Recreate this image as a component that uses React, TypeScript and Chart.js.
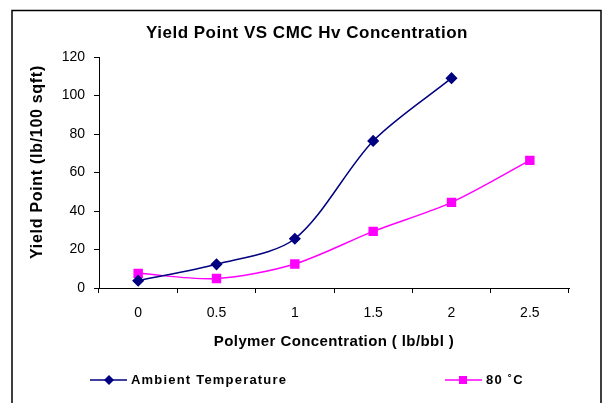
import React, { useEffect, useRef } from "react";
import { Chart, registerables } from "chart.js";

Chart.register(...registerables);

const TITLE = "Yield Point VS CMC Hv Concentration";
const X_TITLE = "Polymer Concentration ( lb/bbl )";
const Y_TITLE = "Yield Point (lb/100 sqft)";

const categories = ["0", "0.5", "1", "1.5", "2", "2.5"];
const ambientValues = [3.8, 12.3, 25.6, 76.4, 109.0, null];
const hotValues = [7.6, 4.9, 12.5, 29.4, 44.5, 66.3];
const seriesNames = ["Ambient Temperature", "80 ˚C"];
const yTicks = { min: 0, max: 120, step: 20 };

const NAVY = "#000080";
const MAGENTA = "#FF00FF";
const FONT = '"Liberation Sans", Arial, sans-serif';

function drawMarker(ctx: CanvasRenderingContext2D, kind: string, x: number, y: number, color: string) {
  ctx.fillStyle = color;
  ctx.beginPath();
  if (kind === "diamond") {
    const r = 5;
    ctx.moveTo(x, y - r);
    ctx.lineTo(x + r, y);
    ctx.lineTo(x, y + r);
    ctx.lineTo(x - r, y);
    ctx.closePath();
  } else {
    const s = 4;
    ctx.rect(x - s, y - s, 2 * s, 2 * s);
  }
  ctx.fill();
}

const decorPlugin = {
  id: "decor",
  afterDraw(chart: any) {
    const ctx: CanvasRenderingContext2D = chart.ctx;
    const area = chart.chartArea;
    ctx.save();
    // outer frame
    ctx.strokeStyle = "#000";
    ctx.lineWidth = 1.5;
    ctx.beginPath();
    ctx.moveTo(12, 403);
    ctx.lineTo(12, 10.5);
    ctx.lineTo(601, 10.5);
    ctx.lineTo(601, 403);
    ctx.stroke();

    ctx.fillStyle = "#000";
    ctx.textAlign = "center";
    ctx.textBaseline = "middle";
    // title
    (ctx as any).letterSpacing = "0.5px";
    ctx.font = `bold 17px ${FONT}`;
    ctx.fillText(TITLE, 307, 33);
    // x title
    (ctx as any).letterSpacing = "0.4px";
    ctx.font = `bold 15px ${FONT}`;
    ctx.fillText(X_TITLE, (area.left + area.right) / 2, 342);
    // y title
    ctx.save();
    (ctx as any).letterSpacing = "0.7px";
    ctx.font = `bold 16px ${FONT}`;
    ctx.translate(38, 162);
    ctx.rotate(-Math.PI / 2);
    ctx.fillText(Y_TITLE, 0, 0);
    ctx.restore();

    // legend
    const items = [
      { x0: 90, x1: 127, mx: 109, tx: 131, color: NAVY, kind: "diamond" },
      { x0: 445, x1: 482, mx: 463, tx: 486, color: MAGENTA, kind: "square" },
    ];
    const ly = 380;
    items.forEach((it, i) => {
      ctx.strokeStyle = it.color;
      ctx.lineWidth = 1.5;
      ctx.beginPath();
      ctx.moveTo(it.x0, ly);
      ctx.lineTo(it.x1, ly);
      ctx.stroke();
      drawMarker(ctx, it.kind, it.mx, ly, it.color);
      ctx.fillStyle = "#000";
      ctx.textAlign = "left";
      (ctx as any).letterSpacing = "1.2px";
      ctx.font = `bold 13px ${FONT}`;
      ctx.fillText(seriesNames[i], it.tx, ly);
    });
    (ctx as any).letterSpacing = "0px";
    ctx.restore();
  },
};

export default function App() {
  const ref = useRef<HTMLCanvasElement | null>(null);

  useEffect(() => {
    if (!ref.current) return;
    const chart = new Chart(ref.current, {
      type: "line",
      data: {
        labels: categories,
        datasets: [
          {
            label: seriesNames[0],
            data: ambientValues,
            borderColor: NAVY,
            backgroundColor: NAVY,
            borderWidth: 1.5,
            pointStyle: "rectRot",
            pointRadius: 5,
            pointHoverRadius: 5,
            tension: 0.3,
            spanGaps: false,
          },
          {
            label: seriesNames[1],
            data: hotValues,
            borderColor: MAGENTA,
            backgroundColor: MAGENTA,
            borderWidth: 1.5,
            pointStyle: "rect",
            pointRadius: 5.6,
            pointHoverRadius: 5.6,
            tension: 0.3,
          },
        ],
      },
      options: {
        responsive: false,
        animation: false,
        events: [],
        layout: { padding: { top: 57, right: 34, bottom: 75, left: 0 } },
        plugins: {
          legend: { display: false },
          title: { display: false },
          tooltip: { enabled: false },
        },
        scales: {
          x: {
            type: "category",
            offset: true,
            grid: {
              offset: true,
              drawOnChartArea: false,
              drawTicks: true,
              tickLength: 5,
              color: "#000",
            },
            border: { display: true, color: "#000", width: 1 },
            ticks: {
              color: "#000",
              font: { family: FONT, size: 14 },
              padding: 12,
              maxRotation: 0,
              autoSkip: false,
            },
            afterFit: (scale: any) => {
              scale.height = 40;
            },
          },
          y: {
            min: yTicks.min,
            max: yTicks.max,
            grid: {
              drawOnChartArea: false,
              drawTicks: true,
              tickLength: 5,
              color: "#000",
            },
            border: { display: true, color: "#000", width: 1 },
            ticks: {
              stepSize: yTicks.step,
              color: "#000",
              font: { family: FONT, size: 14 },
              padding: 9,
            },
            afterFit: (scale: any) => {
              scale.width = 99;
            },
          },
        },
      },
      plugins: [decorPlugin],
    });
    return () => chart.destroy();
  }, []);

  return (
    <div style={{ position: "absolute", left: 0, top: 0, width: 603, height: 403, background: "#fff" }}>
      <canvas ref={ref} width={603} height={403} style={{ display: "block", width: 603, height: 403 }} />
    </div>
  );
}
